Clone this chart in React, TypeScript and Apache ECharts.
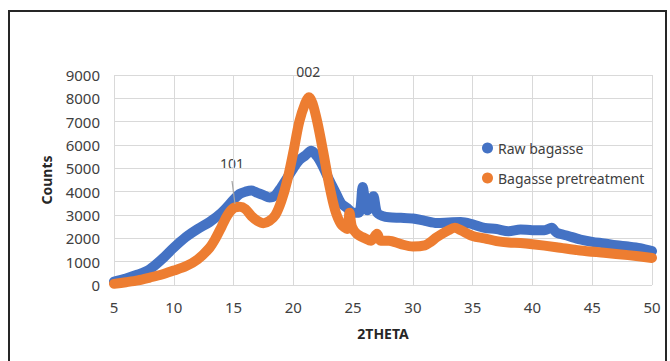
import React, { useEffect, useRef } from "react";
import * as echarts from "echarts";

const seriesNames = ["Raw bagasse", "Bagasse pretreatment"];

const thetaRaw = [5, 6, 7, 8, 9, 10, 11, 12, 13, 14, 15, 15.5, 16, 16.5, 17, 17.5, 18, 18.5, 19, 19.5, 20, 20.5, 21, 21.5, 22, 22.5, 23, 23.5, 24, 24.5, 25, 25.5, 25.8, 26, 26.2, 26.5, 26.7, 27, 27.5, 28, 29, 30, 31, 32, 33, 34, 35, 36, 37, 38, 39, 40, 41, 41.6, 42, 43, 44, 45, 46, 47, 48, 49, 50];
const countsRaw = [150, 280, 450, 680, 1100, 1600, 2050, 2400, 2700, 3100, 3650, 3900, 4000, 4050, 3950, 3850, 3750, 3850, 4200, 4600, 5000, 5350, 5550, 5750, 5500, 5050, 4500, 4000, 3500, 3300, 3100, 3100, 4200, 3600, 3200, 3500, 3800, 3100, 2950, 2900, 2880, 2850, 2750, 2660, 2680, 2700, 2600, 2450, 2400, 2300, 2380, 2350, 2350, 2450, 2250, 2100, 1950, 1850, 1780, 1700, 1650, 1580, 1450];

const thetaPre = [5, 6, 7, 8, 9, 10, 11, 12, 13, 13.5, 14, 14.5, 15, 15.5, 16, 16.5, 17, 17.5, 18, 18.5, 19, 19.5, 20, 20.5, 21, 21.3, 21.6, 22, 22.5, 23, 23.5, 24, 24.5, 24.7, 24.9, 25.3, 26, 26.5, 27, 27.3, 28, 29, 30, 31, 31.5, 32, 33, 33.5, 34, 35, 36, 37, 38, 39, 40, 42, 44, 46, 48, 50];
const countsPre = [50, 120, 200, 320, 450, 620, 800, 1100, 1600, 2000, 2500, 3000, 3300, 3350, 3250, 2950, 2750, 2650, 2750, 3000, 3600, 4500, 5700, 7000, 7800, 8050, 7800, 7000, 5700, 4300, 3200, 2600, 2400, 3100, 2500, 2200, 2000, 1900, 2200, 1900, 1900, 1750, 1650, 1700, 1850, 2050, 2350, 2450, 2350, 2100, 2000, 1880, 1820, 1800, 1750, 1620, 1480, 1380, 1280, 1160];

const FONT = "Noto Sans";

export default function App() {
  const ref = useRef<HTMLDivElement>(null);
  useEffect(() => {
    if (!ref.current) return;
    const chart = echarts.init(ref.current, null, { renderer: "svg" });
    const raw = thetaRaw.map((t, i) => [t, countsRaw[i]]);
    const pre = thetaPre.map((t, i) => [t, countsPre[i]]);
    chart.setOption({
      animation: false,
      backgroundColor: "#ffffff",
      textStyle: { fontFamily: FONT },
      grid: { left: 114, right: 18, top: 75, bottom: 76 },
      legend: {
        orient: "vertical",
        left: 477,
        top: 136,
        itemGap: 16,
        itemWidth: 11,
        itemHeight: 11,
        icon: "circle",
        data: seriesNames,
        textStyle: { fontFamily: FONT, fontSize: 14, color: "#404040" },
      },
      xAxis: {
        type: "value",
        min: 5,
        max: 50,
        interval: 5,
        name: "2THETA",
        nameLocation: "middle",
        nameGap: 41,
        nameTextStyle: { fontFamily: FONT, fontSize: 14, fontWeight: "bold", color: "#262626" },
        axisLine: { show: false },
        axisTick: { show: false },
        axisLabel: { fontFamily: FONT, fontSize: 15, color: "#404040", margin: 14 },
        splitLine: { show: true, lineStyle: { color: "#d9d9d9", width: 1 } },
      },
      yAxis: {
        type: "value",
        min: 0,
        max: 9000,
        interval: 1000,
        name: "Counts",
        nameLocation: "middle",
        nameGap: 61,
        nameTextStyle: { fontFamily: FONT, fontSize: 14, fontWeight: "bold", color: "#262626" },
        axisLine: { show: false },
        axisTick: { show: false },
        axisLabel: { fontFamily: FONT, fontSize: 15, color: "#404040", margin: 14, formatter: (v: number) => String(v) },
        splitLine: { show: true, lineStyle: { color: "#d9d9d9", width: 1 } },
      },
      series: [
        {
          name: seriesNames[0],
          type: "line",
          data: raw,
          smooth: 0.3,
          showSymbol: false,
          symbol: "circle",
          itemStyle: { color: "#4472C4" },
          lineStyle: { color: "#4472C4", width: 10, cap: "round", join: "round" },
          z: 2,
        },
        {
          name: seriesNames[1],
          type: "line",
          data: pre,
          smooth: 0.3,
          showSymbol: false,
          symbol: "circle",
          itemStyle: { color: "#ED7D31" },
          lineStyle: { color: "#ED7D31", width: 10, cap: "round", join: "round" },
          z: 3,
          markPoint: {
            symbol: "circle",
            symbolSize: 0,
            label: { show: true, fontFamily: FONT, fontSize: 14, color: "#404040", position: "top", distance: 0 },
            data: [{ coord: [21.25, 8850], value: "002" }],
          },
        },
      ],
      graphic: [
        {
          type: "rect",
          shape: { x: 9, y: 11, width: 657, height: 360 },
          style: { fill: "none", stroke: "#262626", lineWidth: 2 },
          silent: true,
        },
        {
          type: "text",
          x: 232,
          y: 163,
          style: { text: "101", font: `14px "${FONT}"`, fill: "#404040", textAlign: "center", textVerticalAlign: "middle" },
        },
        {
          type: "line",
          shape: { x1: 232, y1: 181, x2: 235, y2: 204 },
          style: { stroke: "#a5a5a5", lineWidth: 1.2 },
          z: 100,
        },
      ],
    });
    return () => chart.dispose();
  }, []);
  return <div ref={ref} style={{ position: "fixed", left: 0, top: 0, width: 670, height: 361 }} />;
}
